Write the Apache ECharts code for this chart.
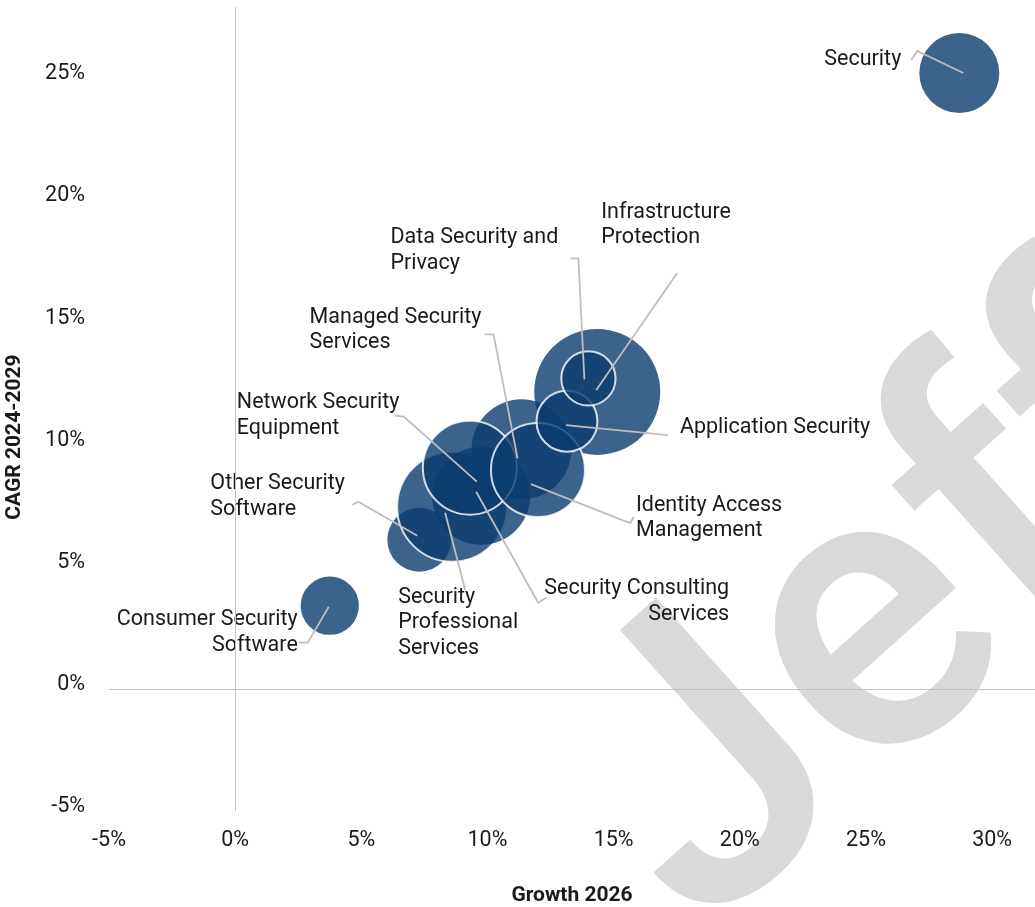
<!DOCTYPE html>
<html>
<head>
<meta charset="utf-8">
<script src="https://cdn.jsdelivr.net/npm/echarts@6/dist/echarts.min.js"></script>
<style>
  html, body { margin: 0; padding: 0; background: #fff; }
  #chart { width: 1035px; height: 907px; }
</style>
</head>
<body>
<div id="chart"></div>
<script>
// segments, in drawing order
const segments = [
  'Security',
  'Consumer Security Software',
  'Other Security Software',
  'Infrastructure Protection',
  'Security Professional Services',
  'Security Consulting Services',
  'Managed Security Services',
  'Network Security Equipment',
  'Identity Access Management',
  'Application Security',
  'Data Security and Privacy'
]
const growth2026 = [28.7, 3.75, 7.3, 14.35, 8.6, 9.75, 11.35, 9.3, 12.0, 13.15, 14.0]
const cagr2429 = [25.2, 3.4, 6.1, 12.15, 7.45, 7.9, 9.8, 9.05, 8.95, 10.95, 12.7]
const marketSize = [100, 53, 64, 248, 189, 150, 156, 138, 138, 58, 46]
const xTicks = [-5, 0, 5, 10, 15, 20, 25, 30]
const yTicks = [-5, 0, 5, 10, 15, 20, 25]

const FONT = 'Roboto, "Noto Sans", sans-serif'
const TEXT = '#1a1a1a'
const BUBBLE = '#0b3c6e'

// bubbles drawn with a white ring
const OUTLINED = new Set([
  'Security Professional Services',
  'Network Security Equipment',
  'Identity Access Management',
  'Application Security',
  'Data Security and Privacy'
])

// label placement, pixel offsets from the bubble centre
const LABELS = {
  'Security': { text: 'Security', pos: [-58, -13], align: 'right', line: [[4, 0], [-42, -22], [-48, -13]] },
  'Consumer Security Software': { text: 'Consumer Security\nSoftware', pos: [-32, 27], align: 'right', line: [[-1, 1], [-22, 37], [-31, 37]] },
  'Other Security Software': { text: 'Other Security\nSoftware', pos: [-209, -43], align: 'left', line: [[-2, -4], [-61, -38], [-67, -35]] },
  'Infrastructure Protection': { text: 'Infrastructure\nProtection', pos: [4, -167], align: 'left', line: [[-1, -2], [80, -119]] },
  'Security Professional Services': { text: 'Security\nProfessional\nServices', pos: [-54, 116], align: 'left', line: [[-7, 6], [13, 83]] },
  'Security Consulting Services': { text: 'Security Consulting\nServices', pos: [248, 106], align: 'right', line: [[-5, -4], [57, 107], [65, 102]] },
  'Managed Security Services': { text: 'Managed Security\nServices', pos: [-212, -119], align: 'left', line: [[-4, 9], [-28, -115], [-37, -115]] },
  'Network Security Equipment': { text: 'Network Security\nEquipment', pos: [-233, -52], align: 'left', line: [[7, 14], [-66, -51], [-75, -52]] },
  'Identity Access Management': { text: 'Identity Access\nManagement', pos: [98, 48], align: 'left', line: [[-7, 14], [92, 53], [96, 47]] },
  'Application Security': { text: 'Application Security', pos: [113, 6], align: 'left', line: [[-1, 4], [101, 14]] },
  'Data Security and Privacy': { text: 'Data Security and\nPrivacy', pos: [-198, -128], align: 'left', line: [[-4, 1], [-10, -120], [-18, -120]] }
}

const chart = echarts.init(document.getElementById('chart'))

const pctLabel = ticks => v => (ticks.some(t => Math.abs(t - v) < 1e-6) ? v + '%' : '')

const bubbleData = segments.map((name, i) => {
  const item = { name, value: [growth2026[i], cagr2429[i], marketSize[i]] }
  if (OUTLINED.has(name)) item.itemStyle = { borderColor: '#ffffff', borderWidth: 2 }
  return item
})

const option = {
  animation: false,
  backgroundColor: '#ffffff',
  textStyle: { fontFamily: FONT },
  grid: { left: 109, right: 0, top: 7, bottom: 96, containLabel: false, outerBoundsMode: 'none' },
  xAxis: {
    type: 'value',
    min: -5,
    max: 31.7,
    interval: 5,
    axisLine: { show: false },
    axisTick: { show: false },
    splitLine: { show: false },
    axisLabel: { formatter: pctLabel(xTicks), color: TEXT, fontSize: 21.5, fontFamily: FONT, margin: 19 },
    name: 'Growth 2026',
    nameLocation: 'middle',
    nameGap: 74,
    nameTextStyle: { color: TEXT, fontSize: 21, fontWeight: 'bold', fontFamily: FONT }
  },
  yAxis: {
    type: 'value',
    min: -5,
    max: 27.9,
    interval: 5,
    axisLine: { show: false },
    axisTick: { show: false },
    splitLine: { show: false },
    axisLabel: {
      formatter: pctLabel(yTicks),
      color: TEXT,
      fontSize: 21.5,
      fontFamily: FONT,
      margin: 24,
      verticalAlign: 'bottom',
      lineHeight: 8
    }
  },
  graphic: [
    {
      type: 'text',
      z: 0,
      x: 902,
      y: 625,
      rotation: 0.73,
      silent: true,
      style: { text: 'Jeff', fontSize: 400, fontWeight: 500, fontFamily: FONT, fill: '#d9d9d9', align: 'center', verticalAlign: 'middle' }
    },
    {
      type: 'text',
      z: 1,
      x: 15,
      y: 437,
      rotation: Math.PI / 2,
      style: { text: 'CAGR 2024-2029', fontSize: 21, fontWeight: 'bold', fontFamily: FONT, fill: TEXT, align: 'center', verticalAlign: 'middle' }
    }
  ],
  series: [
    {
      type: 'scatter',
      z: 2,
      data: bubbleData,
      symbolSize: val => 8 * Math.sqrt(val[2]),
      itemStyle: { color: BUBBLE, opacity: 0.8 },
      emphasis: { disabled: true },
      markLine: {
        silent: true,
        symbol: 'none',
        label: { show: false },
        lineStyle: { color: '#c2c2c6', width: 1, type: 'solid' },
        data: [{ xAxis: 0 }, { yAxis: 0 }]
      }
    },
    {
      type: 'custom',
      z: 3,
      silent: true,
      clip: false,
      data: segments.map((name, i) => [growth2026[i], cagr2429[i], i]),
      renderItem: (params, api) => {
        const c = api.coord([api.value(0), api.value(1)])
        const lay = LABELS[segments[api.value(2)]]
        const points = lay.line.map(p => [c[0] + p[0], c[1] + p[1]])
        return {
          type: 'group',
          children: [
            {
              type: 'polyline',
              shape: { points },
              style: { stroke: '#bdbdbd', lineWidth: 1.8, fill: null }
            },
            {
              type: 'text',
              x: c[0] + lay.pos[0],
              y: c[1] + lay.pos[1],
              style: {
                text: lay.text,
                fill: TEXT,
                fontSize: 21.5,
                fontFamily: FONT,
                lineHeight: 25.5,
                align: lay.align,
                verticalAlign: 'middle'
              }
            }
          ]
        }
      }
    }
  ]
}

chart.setOption(option)
</script>
</body>
</html>
